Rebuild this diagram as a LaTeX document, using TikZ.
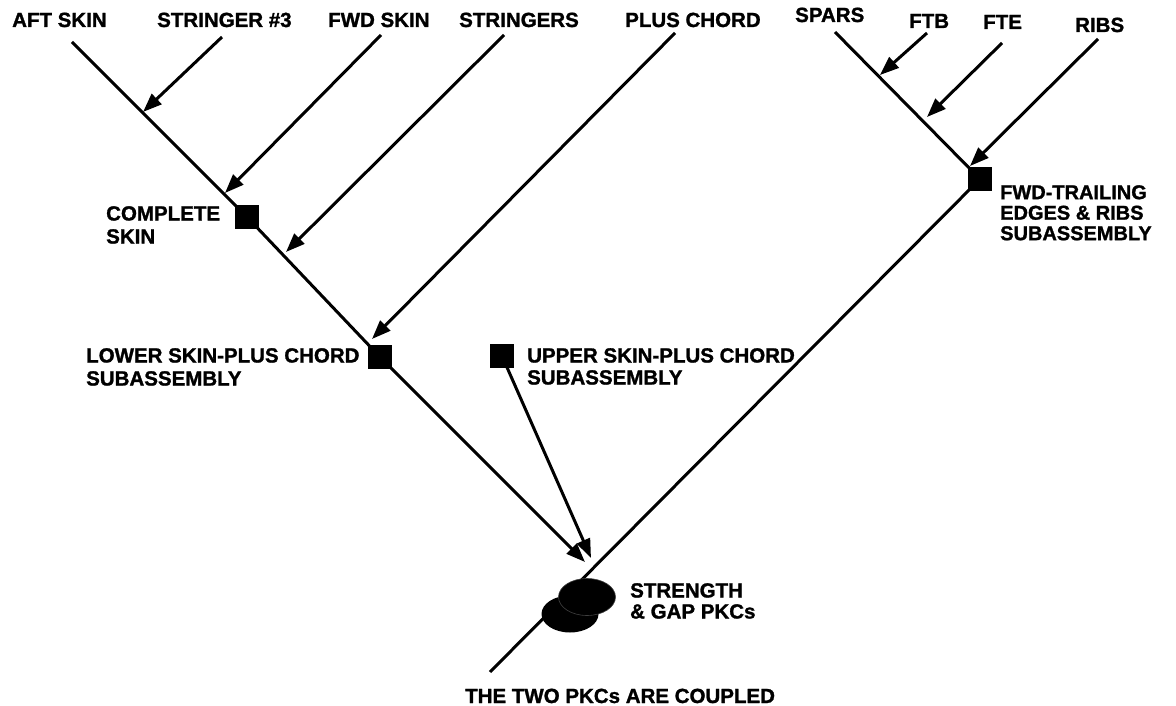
\documentclass[tikz,border=0pt]{standalone}
\usepackage{fontspec}
\setmainfont{Liberation Sans}[BoldFeatures={FakeBold=1.3}]
\usetikzlibrary{arrows.meta,shapes.geometric}
\begin{document}
\begin{tikzpicture}[x=1pt,y=-1pt,
  lbl/.style={anchor=base west,inner sep=0pt,font=\fontsize{20.5}{22}\selectfont\bfseries},
  mlbl/.style={anchor=north west,inner sep=0pt,align=left},
  ln/.style={line width=3pt},
  arr/.style={line width=3pt,-{Triangle[length=19pt,width=14pt]}},
  sq/.style={fill=black,minimum size=24pt,inner sep=0pt},
  pkc/.style={ellipse,fill=black,minimum width=57pt,minimum height=37pt,inner sep=0pt}]
\useasboundingbox (0,0) rectangle (1176,706);

% labels
\node[lbl] (tAft) at (12,27) {AFT SKIN};
\node[lbl] (tS3) at (157,27) {STRINGER \#3};
\node[lbl] (tFwd) at (328,27) {FWD SKIN};
\node[lbl] (tStr) at (459,27) {STRINGERS};
\node[lbl] (tPc) at (625,27) {PLUS CHORD};
\node[lbl] (tSp) at (795,22) {SPARS};
\node[lbl] (tFtb) at (909,28) {FTB};
\node[lbl] (tFte) at (983,29) {FTE};
\node[lbl] (tRib) at (1075,32) {RIBS};
\node[mlbl,font=\fontsize{20.5}{23}\selectfont\bfseries] (tCs) at (106,206) {COMPLETE\\SKIN};
\node[mlbl,font=\fontsize{20.5}{23}\selectfont\bfseries] (tLs) at (86,348) {LOWER SKIN-PLUS CHORD\\SUBASSEMBLY};
\node[mlbl,font=\fontsize{20.5}{22}\selectfont\bfseries] (tUs) at (527,348) {UPPER SKIN-PLUS CHORD\\SUBASSEMBLY};
\node[mlbl,font=\fontsize{20}{20.5}\selectfont\bfseries] (tFt) at (1000,185) {FWD-TRAILING\\EDGES \& RIBS\\SUBASSEMBLY};
\node[mlbl,font=\fontsize{20.5}{21}\selectfont\bfseries] (tSg) at (630,583) {STRENGTH\\\& GAP PKCs};
\node[lbl] (tCpl) at (465,703) {THE TWO PKCs ARE COUPLED};

% squares
\node[sq] (cs) at (247,217) {};
\node[sq] (ls) at (380,357) {};
\node[sq] (us) at (502,356) {};
\node[sq] (ft) at (980,179) {};

% coordinates
\coordinate (aft) at (72,42);
\coordinate (s3a) at (222,37);  \coordinate (s3b) at (143,112);
\coordinate (fwa) at (381,35);  \coordinate (fwb) at (225,193);
\coordinate (sta) at (504,35);  \coordinate (stb) at (286,252);
\coordinate (pca) at (675,33);  \coordinate (pcb) at (372,339);
\coordinate (tipL) at (585,562);
\coordinate (tipU) at (591,558);
\coordinate (bot) at (490,672);
\coordinate (spa) at (835,32);
\coordinate (fba) at (927,33);  \coordinate (fbb) at (880,75);
\coordinate (fea) at (1002,43); \coordinate (feb) at (927,117);
\coordinate (rba) at (1098,39); \coordinate (rbb) at (970,166);

% left tree
\draw[ln] (aft) -- (cs.center) -- (ls.center);
\draw[arr] (s3a) -- (s3b);
\draw[arr] (fwa) -- (fwb);
\draw[arr] (sta) -- (stb);
\draw[arr] (pca) -- (pcb);
\draw[arr] (ls.center) -- (tipL);
\draw[arr] (us.center) -- (tipU);

% right tree
\draw[ln] (spa) -- (ft.center) -- (bot);
\draw[arr] (fba) -- (fbb);
\draw[arr] (fea) -- (feb);
\draw[arr] (rba) -- (rbb);

% redraw squares on top
\node[sq] at (cs) {};
\node[sq] at (ls) {};
\node[sq] at (us) {};
\node[sq] at (ft) {};

% PKC ellipses
\node[pkc] (pkc2) at (570,614) {};
\node[pkc,draw=black!75,line width=0.6pt] (pkc1) at (587,597) {};
\end{tikzpicture}
\end{document}
